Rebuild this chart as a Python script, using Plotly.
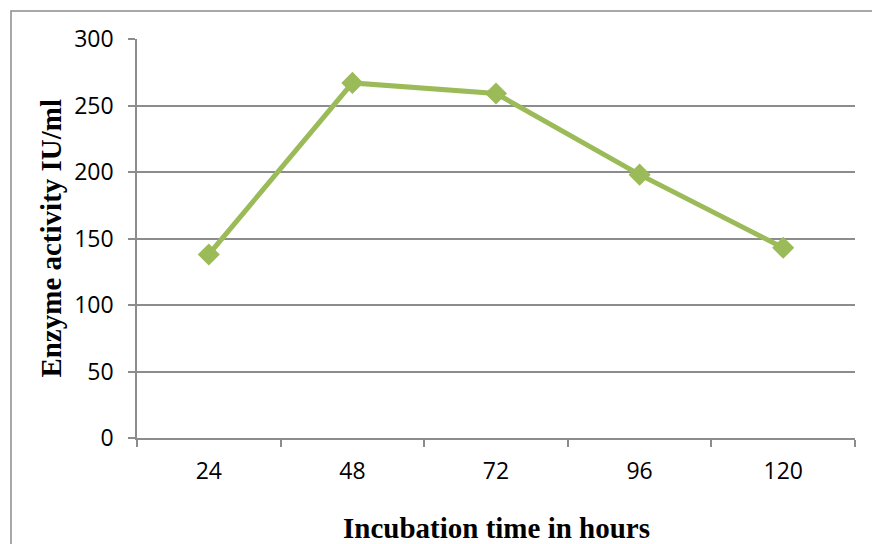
import plotly.graph_objects as go

# Incubation time (hours) and measured enzyme activity (IU/ml)
hours = ["24", "48", "72", "96", "120"]
activity = [138, 267, 259, 198, 143]
y_ticks = [0, 50, 100, 150, 200, 250, 300]

green = "#9BBB59"
grey = "#8C8C8C"
tick_font = dict(family="Open Sans, Noto Sans, sans-serif", size=23, color="black")
title_font = dict(family="Liberation Serif, Times New Roman, serif", size=29, color="black")

fig = go.Figure()
fig.add_trace(go.Scatter(
    x=hours, y=activity, mode="lines+markers",
    line=dict(color=green, width=5),
    marker=dict(symbol="diamond", size=17, color=green),
    showlegend=False,
))

fig.update_layout(
    width=872, height=544,
    margin=dict(l=137, r=17, t=39, b=106),
    paper_bgcolor="white", plot_bgcolor="white",
    xaxis=dict(
        type="category", tickson="boundaries", range=[-0.5, 4.5],
        showgrid=False, showline=True, linecolor=grey, linewidth=1.5,
        ticks="outside", ticklen=7, tickcolor=grey, tickwidth=1.5,
        ticklabelstandoff=12, tickfont=tick_font,
    ),
    yaxis=dict(
        range=[0, 300], tickvals=y_ticks,
        showgrid=True, gridcolor=grey, gridwidth=1.5,
        showline=True, linecolor=grey, linewidth=1.5,
        ticks="outside", ticklen=7, tickcolor=grey, tickwidth=1.5,
        ticklabelstandoff=10, zeroline=False, tickfont=tick_font,
    ),
    annotations=[
        dict(text="<b>Enzyme activity IU/ml</b>", textangle=-90,
             xref="paper", yref="paper", x=-0.121, y=0.5,
             xanchor="center", yanchor="middle", showarrow=False,
             font=title_font),
        dict(text="<b>Incubation time in hours</b>",
             xref="paper", yref="paper", x=0.5, y=-0.226,
             xanchor="center", yanchor="middle", showarrow=False,
             font=title_font),
    ],
    shapes=[
        dict(type="rect", xref="paper", yref="paper",
             x0=-0.1755, x1=1.03, y0=-0.4, y1=1.0702,
             line=dict(color=grey, width=1.5), layer="below"),
    ],
)

fig.write_html("out.html")
